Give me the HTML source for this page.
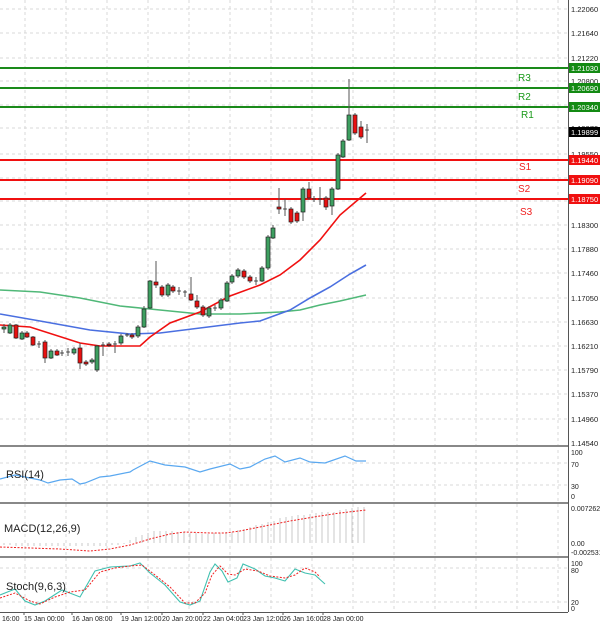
<!DOCTYPE html>
<html><head><meta charset="utf-8"><style>
body{margin:0;background:#fff;width:600px;height:629px;overflow:hidden}
svg{display:block;font-family:"Liberation Sans",sans-serif}
</style></head><body>
<svg width="600" height="629" viewBox="0 0 600 629" xmlns="http://www.w3.org/2000/svg">
<rect width="600" height="629" fill="#fff"/>
<g stroke="#d8d8d8" stroke-dasharray="3,3" stroke-width="1">
<path d="M25 0V612M66 0V612M107 0V612M148 0V612M189 0V612M230 0V612M271 0V612M312 0V612M353 0V612M394 0V612M435 0V612M476 0V612M517 0V612M558 0V612"/>
<path d="M0 9H568M0 33H568M0 58H568M0 81H568M0 105H568M0 128H568M0 154H568M0 178H568M0 201H568M0 225H568M0 249H568M0 273H568M0 298H568M0 322H568M0 346H568M0 370H568M0 394H568M0 419H568"/>
<path d="M0 463H568M0 485H568M0 568H568M0 602H568"/>
</g>
<!-- levels -->
<g stroke-width="2">
<path d="M0 68H568M0 88H568M0 107H568" stroke="#1a8a1a"/>
<path d="M0 160H568M0 180H568M0 199H568" stroke="#f01010"/>
</g>
<g font-size="10" fill="#1a9a1a"><text x="518" y="81">R3</text><text x="518" y="100">R2</text><text x="521" y="118">R1</text></g>
<g font-size="10" fill="#f02020"><text x="519" y="170">S1</text><text x="518" y="192">S2</text><text x="520" y="215">S3</text></g>
<!-- MAs -->
<polyline fill="none" stroke="#50b878" stroke-width="1.6" points="0,290 40,292 80,298 120,306 160,310 200,314 240,314 280,312 300,310 320,305 340,301 366,295"/>
<polyline fill="none" stroke="#4a6fe0" stroke-width="1.6" points="0,314 40,321 90,330 130,334 160,333 200,328 240,323 260,321 290,310 310,298 330,287 350,274 366,265"/>
<polyline fill="none" stroke="#f01010" stroke-width="1.6" points="0,325 30,327 80,343 100,346 140,346 150,337 170,323 200,312 230,296 260,285 280,275 300,260 320,240 340,215 366,193"/>
<!-- candles -->
<g id="c" stroke="#333" stroke-width="0.8">
<script type="text/plain"></script>
</g>
<g stroke="#555" stroke-width="1" id="w">
<path d="M4 324V333M10 323V334M16 324V339M22 331V340M27 331V338M33 336V346M39 341V348M45 340V363M51 349V359M57 349V356M62 350V356M68 348V356M74 347V355M80 343V369M86 360V366M92 358V364M97 345V372M103 342V356M109 342V347M115 341V353M121 334V345M127 333V337M132 333V339M138 325V338M144 306V328M150 280V309M156 261V288M162 285V297M168 283V297M173 285V293M179 287V295M185 290V297M191 277V301M197 295V309M203 305V317M209 306V318M215 305V311M221 298V310M227 281V302M232 274V284M238 268V278M244 269V279M250 275V283M256 277V285M262 266V282M268 235V270M273 225V239M279 188V214M285 199V216M291 207V224M297 211V223M303 187V221M309 182V200M314 196V202M320 187V205M326 196V210M332 187V215M338 153V190M343 139V158M349 79V141M355 113V135M361 121V139M367 124V143"/>
</g>
<g stroke="#222" stroke-width="0.7">
<g fill="#3d9f60">
<rect x="2" y="327" width="4" height="2"/><rect x="8" y="325" width="4" height="8"/><rect x="20" y="333" width="4" height="6"/><rect x="49" y="351" width="4" height="7"/><rect x="72" y="349" width="4" height="4"/><rect x="90" y="360" width="4" height="2"/><rect x="95" y="346" width="4" height="24"/><rect x="119" y="336" width="4" height="7"/><rect x="136" y="327" width="4" height="9"/><rect x="142" y="309" width="4" height="18"/><rect x="148" y="281" width="4" height="27"/><rect x="166" y="285" width="4" height="10"/><rect x="207" y="308" width="4" height="8"/><rect x="219" y="300" width="4" height="8"/><rect x="225" y="283" width="4" height="18"/><rect x="230" y="276" width="4" height="6"/><rect x="236" y="270" width="4" height="6"/><rect x="260" y="268" width="4" height="13"/><rect x="266" y="237" width="4" height="31"/><rect x="271" y="228" width="4" height="10"/><rect x="301" y="189" width="4" height="23"/><rect x="330" y="189" width="4" height="17"/><rect x="336" y="155" width="4" height="34"/><rect x="341" y="141" width="4" height="16"/><rect x="347" y="115" width="4" height="25"/>
</g>
<g fill="#e81010">
<rect x="14" y="325" width="4" height="13"/><rect x="25" y="333" width="4" height="4"/><rect x="31" y="337" width="4" height="8"/><rect x="43" y="342" width="4" height="16"/><rect x="55" y="351" width="4" height="4"/><rect x="78" y="348" width="4" height="15"/><rect x="84" y="362" width="4" height="2"/><rect x="107" y="344" width="4" height="1.5"/><rect x="130" y="335" width="4" height="2"/><rect x="154" y="282" width="4" height="3"/><rect x="160" y="287" width="4" height="8"/><rect x="171" y="287" width="4" height="4"/><rect x="189" y="294" width="4" height="6"/><rect x="195" y="301" width="4" height="6"/><rect x="201" y="307" width="4" height="8"/><rect x="242" y="271" width="4" height="6"/><rect x="248" y="277" width="4" height="4"/><rect x="277" y="207" width="4" height="2"/><rect x="289" y="209" width="4" height="13"/><rect x="295" y="213" width="4" height="8"/><rect x="307" y="189" width="4" height="9"/><rect x="324" y="198" width="4" height="9"/><rect x="353" y="115" width="4" height="18"/><rect x="359" y="127" width="4" height="10"/>
</g>
<path d="M37 344H41M60 353H64M66 352H70M101 345H105M113 344H117M125 335H129M177 291H181M183 292H187M213 308H217M254 281H258M283 209H287M312 199H316M318 199H322M365 130H369" stroke="#222"/>
</g>
<!-- axis -->
<path d="M568.5 0V612" stroke="#555"/>
<path d="M0 446H568M0 503H568M0 557H568" stroke="#888" stroke-width="2"/>
<path d="M0 612.5H568" stroke="#555"/>
<g font-size="7.5" fill="#222">
<text x="571" y="12">1.22060</text><text x="571" y="36">1.21640</text><text x="571" y="61">1.21220</text><text x="571" y="84">1.20800</text><text x="571" y="131">1.19970</text><text x="571" y="157">1.19550</text><text x="571" y="228">1.18300</text><text x="571" y="252">1.17880</text><text x="571" y="276">1.17460</text><text x="571" y="301">1.17050</text><text x="571" y="325">1.16630</text><text x="571" y="349">1.16210</text><text x="571" y="373">1.15790</text><text x="571" y="397">1.15370</text><text x="571" y="422">1.14960</text><text x="571" y="446">1.14540</text>
</g>
<rect x="569" y="63" width="31" height="10" fill="#138a13"/><rect x="569" y="83" width="31" height="10" fill="#138a13"/><rect x="569" y="102" width="31" height="10" fill="#138a13"/>
<rect x="569" y="127" width="31" height="10" fill="#000"/>
<rect x="569" y="155" width="31" height="10" fill="#f01010"/><rect x="569" y="175" width="31" height="10" fill="#f01010"/><rect x="569" y="194" width="31" height="10" fill="#f01010"/>
<g font-size="7.5" fill="#fff">
<text x="571" y="71">1.21030</text><text x="571" y="91">1.20690</text><text x="571" y="110">1.20340</text><text x="571" y="135">1.19899</text><text x="571" y="163">1.19440</text><text x="571" y="183">1.19090</text><text x="571" y="202">1.18750</text>
</g>
<!-- RSI -->
<polyline fill="none" stroke="#5aa8f0" stroke-width="1.2" points="0,479 15,475 40,480 48,483 60,480 72,479 80,484 85,483 100,477 110,476 130,472 133,470 150,461 165,465 185,467 200,472 210,469 230,464 240,469 250,467 265,459 275,456 285,462 300,458 310,462 325,463 345,456 356,461 366,461"/>
<text x="6" y="478" font-size="11" fill="#222">RSI(14)</text>
<g font-size="7" fill="#222"><text x="571" y="455">100</text><text x="571" y="467">70</text><text x="571" y="489">30</text><text x="571" y="499">0</text></g>
<!-- MACD -->
<g stroke="#c8c8c8" stroke-width="1">
<path d="M4 543V545M10 543V545M16 543V546M22 543V546M28 543V546M34 543V546M40 543V546M46 543V546M52 543V546M58 543V546M64 543V546M70 543V546M76 543V546M82 543V546M88 543V546M94 543V546M100 543V546M106 543V546M112 543V545M118 543V545M124 543V544M130 543V540M136 543V537M142 543V535M148 543V533M154 543V531M160 543V531M166 543V531M172 543V531M178 543V532M184 543V532M190 543V533M196 543V533M202 543V534M208 543V534M214 543V533M220 543V533M226 543V532M232 543V532M238 543V530M244 543V529M250 543V527M256 543V525M262 543V524M268 543V522M274 543V521M280 543V518M286 543V517M292 543V516M298 543V515M304 543V515M310 543V514M316 543V513M322 543V512M328 543V512M334 543V512M340 543V510M346 543V509M352 543V508M358 543V507M364 543V507"/>
</g>
<polyline fill="none" stroke="#f02020" stroke-width="1" stroke-dasharray="2,1.5" points="0,547 60,549 90,551 110,549 130,545 150,539 170,534 185,532 210,533 225,533 240,531 260,527 290,521 320,516 340,513 366,510"/>
<text x="4" y="532" font-size="11" fill="#222">MACD(12,26,9)</text>
<g font-size="7" fill="#222"><text x="571" y="511">0.007262</text><text x="571" y="546">0.00</text><text x="571" y="555">-0.002531</text></g>
<!-- Stoch -->
<polyline fill="none" stroke="#40c0b0" stroke-width="1.1" points="0,595 15,589 25,601 35,605 45,601 62,590 80,597 95,571 110,567 130,566 140,563 150,573 165,585 180,602 190,605 200,601 210,572 215,564 222,571 228,582 237,578 243,564 255,569 265,576 275,578 285,581 295,569 305,573 315,575 325,584"/>
<polyline fill="none" stroke="#f02020" stroke-width="1" stroke-dasharray="2,1.5" points="0,598 15,593 30,601 40,604 55,597 70,592 85,590 100,572 115,568 130,566 142,565 155,575 170,587 185,603 195,603 205,593 212,575 220,566 228,574 235,575 245,569 258,571 270,576 285,578 295,575 305,568 315,572 320,577"/>
<text x="6" y="590" font-size="11" fill="#222">Stoch(9,6,3)</text>
<g font-size="7" fill="#222"><text x="571" y="566">100</text><text x="571" y="573">80</text><text x="571" y="605">20</text><text x="571" y="611">0</text></g>
<!-- x labels -->
<g font-size="7" fill="#222">
<text x="2" y="621">16:00</text><text x="24" y="621">15 Jan 00:00</text><text x="72" y="621">16 Jan 08:00</text><text x="121" y="621">19 Jan 12:00</text><text x="162" y="621">20 Jan 20:00</text><text x="203" y="621">22 Jan 04:00</text><text x="243" y="621">23 Jan 12:00</text><text x="283" y="621">26 Jan 16:00</text><text x="323" y="621">28 Jan 00:00</text>
</g>
<g stroke="#555"><path d="M24 612V615M72 612V615M121 612V615M162 612V615M203 612V615M243 612V615M283 612V615M323 612V615"/></g>
</svg>
</body></html>
